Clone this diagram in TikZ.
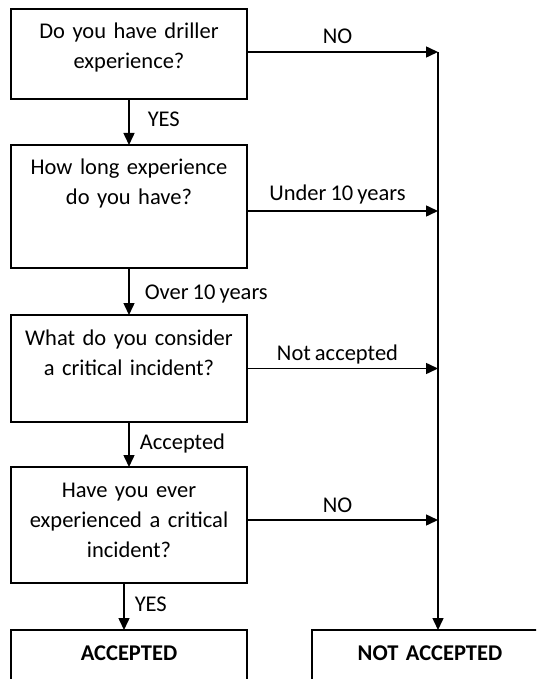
\documentclass[tikz,border=0pt]{standalone}
\usepackage{fontspec}
\setmainfont{Carlito}[WordSpace=0.8]
\usetikzlibrary{arrows.meta, positioning, calc}

\tikzset{
  qbox/.style={draw, line width=1.5pt, anchor=north, inner sep=0pt, outer sep=0pt,
    text width=236pt, align=center, text height=30pt,
    font=\fontsize{22.5}{30}\selectfont},
  outbox/.style={qbox, text depth=60pt, font=\fontsize{22.5}{30}\selectfont\bfseries},
  flow/.style={line width=1.5pt, -{Triangle[length=12pt,width=11pt]}},
  lbl/.style={inner sep=0pt, text height=15pt, text depth=0pt,
    font=\fontsize{22.5}{30}\selectfont},
}

\begin{document}
\begin{tikzpicture}[x=1pt, y=-1pt]
\useasboundingbox (0,0) rectangle (536,679);
\clip (0,0) rectangle (536,679);

% questions
\node[qbox, text depth=60pt] (q1) at (129,9) {Do you have driller\\experience?};
\node[qbox, text depth=93pt] (q2) at (129,145) {How long experience\\do you have?};
\node[qbox, text depth=77pt] (q3) at (129,315) {What do you consider\\a critical incident?};
\node[qbox, text depth=86pt] (q4) at (129,467) {Have you ever\\experienced a critical\\incident?};

% outcomes
\node[outbox] (acc) at (129,630) {ACCEPTED};
\node[outbox] (nacc) at (430,630) {NOT ACCEPTED};

% rejection rail
\coordinate (rail) at (438,52);

% yes path
\draw[flow] (q1.south) -- node[lbl, right=18pt, yshift=3pt] {YES} (q2.north);
\draw[flow] (q2.south) -- node[lbl, right=15pt] {Over 10 years} (q3.north);
\draw[flow] (q3.south) -- node[lbl, right=10pt, yshift=3pt] {Accepted} (q4.north);
\draw[flow] ([xshift=-5pt]q4.south) -- node[lbl, right=10pt, yshift=3pt] {YES} ([xshift=-5pt]q4.south |- acc.north);

% no path
\draw[flow] ([yshift=2pt]q1.east) -- node[lbl, above=8pt, xshift=-5pt] {NO} (rail);
\draw[flow] ([yshift=-4.5pt]q2.east) -- node[lbl, above=10pt, xshift=-5pt] {Under 10 years} ([yshift=-4.5pt]q2.east -| rail);
\draw[flow] (q3.east) -- node[lbl, above=7pt, xshift=-5pt] {Not accepted} (q3.east -| rail);
\draw[flow] ([yshift=5pt]q4.east) -- node[lbl, above=7pt, xshift=-5pt] {NO} ([yshift=5pt]q4.east -| rail);
\draw[flow] (rail) -- (rail |- nacc.north);
\end{tikzpicture}
\end{document}
